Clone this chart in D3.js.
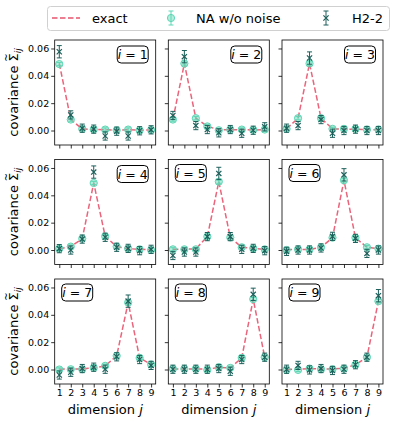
<!DOCTYPE html>
<html>
<head>
<meta charset="utf-8">
<script src="https://cdn.jsdelivr.net/npm/d3@7"></script>
<style>
  body { margin: 0; background: #fff; }
  svg { font-family: "DejaVu Sans", sans-serif; }
</style>
</head>
<body>
<div id="chart"></div>
<script>
// dimension index j
let dims = [1, 2, 3, 4, 5, 6, 7, 8, 9];
let yTicks = [0.00, 0.02, 0.04, 0.06];

// exact covariance row i (one array per panel)
let exact = [
  [0.049, 0.008, 0.0012, 0.0008, 0.0006, 0.0002, 0.0006, 0.0002, 0.0004],
  [0.008, 0.049, 0.009, 0.003, 0.0006, 0.0006, 0.0006, 0.0004, 0.0006],
  [0.0012, 0.009, 0.049, 0.009, 0.0012, 0.0010, 0.0010, 0.0006, 0.0006],
  [0.0008, 0.0025, 0.0083, 0.049, 0.010, 0.0025, 0.0010, 0.0005, 0.0002],
  [0.0005, 0.0006, 0.0008, 0.0098, 0.050, 0.0092, 0.002, 0.0012, 0.0004],
  [0.0002, 0.0004, 0.0004, 0.002, 0.009, 0.051, 0.009, 0.002, 0.001],
  [0.0002, 0.0004, 0.0004, 0.0012, 0.0027, 0.010, 0.049, 0.0085, 0.0037],
  [0.0004, 0.0004, 0.0004, 0.0002, 0.0015, 0.0012, 0.0085, 0.0515, 0.009],
  [0.0002, 0.0002, 0.0006, 0.0004, 0.0004, 0.0008, 0.0035, 0.009, 0.050]
];

// NA w/o noise
let naNoNoise = [
  [0.0486, 0.008, 0.0012, 0.0008, 0.0007, 0.0002, 0.0007, 0.0002, 0.0004],
  [0.008, 0.049, 0.009, 0.003, 0.0002, 0.0007, 0.0007, 0.0005, 0.0007],
  [0.0012, 0.009, 0.049, 0.009, 0.0012, 0.0012, 0.0012, 0.0007, 0.0007],
  [0.0010, 0.0025, 0.0083, 0.049, 0.010, 0.0025, 0.0010, 0.0005, 0.0000],
  [0.0005, 0.0005, 0.0005, 0.0098, 0.050, 0.0092, 0.002, 0.0012, 0.0005],
  [0.0000, 0.0005, 0.0005, 0.002, 0.009, 0.051, 0.009, 0.002, 0.001],
  [0.0000, 0.0002, 0.0002, 0.0012, 0.0027, 0.010, 0.049, 0.0085, 0.0037],
  [0.0005, 0.0005, 0.0005, -0.0003, 0.0017, 0.0012, 0.0085, 0.0515, 0.009],
  [-0.0003, -0.0003, 0.0007, 0.0002, 0.0002, 0.0007, 0.0035, 0.009, 0.050]
];
let naErr = 0.0012;

// H2-2 hardware
let h2 = [
  [0.0576, 0.0114, 0.0017, 0.0010, -0.0040, -0.0005, -0.0040, -0.0002, 0.0005],
  [0.011, 0.054, 0.0036, 0.0007, -0.0017, 0.0007, -0.0020, 0.0002, 0.0027],
  [0.0017, 0.0036, 0.053, 0.008, -0.0020, 0.0000, 0.0010, 0.0000, 0.0000],
  [0.0010, 0.0000, 0.0080, 0.057, 0.0093, 0.0020, 0.0012, -0.0005, 0.0005],
  [-0.0040, -0.0015, -0.0015, 0.0098, 0.056, 0.0098, 0.0005, 0.0012, -0.0005],
  [-0.0010, 0.0000, 0.0000, 0.0015, 0.010, 0.055, 0.0085, -0.0025, 0.0000],
  [-0.0040, -0.0020, 0.0007, 0.0017, 0.0002, 0.0093, 0.050, 0.0073, 0.0030],
  [0.0002, 0.0002, 0.0002, 0.0002, 0.0007, -0.0013, 0.0073, 0.055, 0.009],
  [0.0002, 0.0030, -0.0003, 0.0007, -0.0007, 0.0002, 0.0035, 0.009, 0.054]
];
let h2Err = [
  [0.0045, 0.003, 0.003, 0.003, 0.003, 0.003, 0.003, 0.003, 0.003],
  [0.003, 0.0045, 0.003, 0.003, 0.003, 0.003, 0.003, 0.003, 0.003],
  [0.003, 0.003, 0.0045, 0.003, 0.003, 0.003, 0.003, 0.003, 0.003],
  [0.003, 0.003, 0.003, 0.0045, 0.003, 0.003, 0.003, 0.003, 0.003],
  [0.003, 0.003, 0.003, 0.003, 0.0045, 0.003, 0.003, 0.003, 0.003],
  [0.003, 0.003, 0.003, 0.003, 0.003, 0.0045, 0.003, 0.003, 0.003],
  [0.003, 0.003, 0.003, 0.003, 0.003, 0.003, 0.0045, 0.003, 0.003],
  [0.003, 0.003, 0.003, 0.003, 0.003, 0.003, 0.003, 0.0045, 0.003],
  [0.003, 0.003, 0.003, 0.003, 0.003, 0.003, 0.003, 0.003, 0.0045]
];

let exactColor = "#e8536d";
let naColor = "#5ed6b4";
let h2Color = "#1c5f5a";

let W = 396, H = 423;
let colLeft = [54.7, 168.3, 282];
let rowTop = [40, 159.5, 279];
let pw = 101, ph = 105;

let svg = d3.select("#chart").append("svg")
    .attr("width", W)
    .attr("height", H);

let x = d3.scaleLinear().domain([0.6, 9.4]).range([0, pw]);
let y = d3.scaleLinear().domain([-0.0106, 0.0662]).range([ph, 0]);

for (let p = 0; p < 9; p++) {
    let row = Math.floor(p / 3), col = p % 3;
    let g = svg.append("g")
        .attr("transform", "translate(" + colLeft[col] + "," + rowTop[row] + ")");

    // axes
    let xa = g.append("g").attr("transform", "translate(0," + ph + ")")
        .call(d3.axisBottom(x).tickValues(dims).tickSize(3.5).tickPadding(2)
            .tickFormat(row == 2 ? d3.format("d") : ""));
    let ya = g.append("g")
        .call(d3.axisLeft(y).tickValues(yTicks).tickSize(3.5).tickPadding(2)
            .tickFormat(col == 0 ? d3.format(".2f") : ""));
    [xa, ya].forEach(a => {
        a.select(".domain").remove();
        a.selectAll("line").attr("stroke", "#000").attr("stroke-width", 0.8);
        a.selectAll("text").attr("fill", "#000").style("font-size", "9.5px")
            .style("font-family", "DejaVu Sans");
    });

    // exact dashed line
    g.append("path")
        .datum(exact[p])
        .attr("fill", "none")
        .attr("stroke", exactColor)
        .attr("stroke-width", 1.5)
        .attr("stroke-dasharray", "5.5,2.5")
        .attr("opacity", 0.9)
        .attr("d", d3.line().x((d, i) => x(dims[i])).y(d => y(d)));

    // NA w/o noise
    let na = g.append("g");
    naNoNoise[p].forEach(function(v, i) {
        let cx = x(dims[i]);
        na.append("line").attr("x1", cx).attr("x2", cx)
            .attr("y1", y(v - naErr)).attr("y2", y(v + naErr))
            .attr("stroke", naColor).attr("stroke-width", 1);
        [v - naErr, v + naErr].forEach(e => na.append("line")
            .attr("x1", cx - 2.5).attr("x2", cx + 2.5)
            .attr("y1", y(e)).attr("y2", y(e))
            .attr("stroke", naColor).attr("stroke-width", 1));
        na.append("circle").attr("cx", cx).attr("cy", y(v)).attr("r", 3.6)
            .attr("fill", naColor).attr("fill-opacity", 0.45)
            .attr("stroke", naColor).attr("stroke-width", 1);
    });

    // H2-2
    let hw = g.append("g");
    h2[p].forEach(function(v, i) {
        let cx = x(dims[i]), e = h2Err[p][i];
        hw.append("line").attr("x1", cx).attr("x2", cx)
            .attr("y1", y(v - e)).attr("y2", y(v + e))
            .attr("stroke", h2Color).attr("stroke-width", 1);
        [v - e, v + e].forEach(t => hw.append("line")
            .attr("x1", cx - 2.5).attr("x2", cx + 2.5)
            .attr("y1", y(t)).attr("y2", y(t))
            .attr("stroke", h2Color).attr("stroke-width", 1));
        let cy = y(v), s = 2.6;
        hw.append("path")
            .attr("d", "M" + (cx - s) + "," + (cy - s) + "L" + (cx + s) + "," + (cy + s) +
                       "M" + (cx - s) + "," + (cy + s) + "L" + (cx + s) + "," + (cy - s))
            .attr("stroke", h2Color).attr("stroke-width", 1.2);
    });

    // frame
    g.append("rect")
        .attr("width", pw).attr("height", ph)
        .attr("fill", "none").attr("stroke", "#000").attr("stroke-width", 0.8);

    // i = n label box
    let bw = 31, bh = 17;
    let bx = p < 4 ? pw - bw - 7.5 : 7;
    let by = p < 4 ? 6 : 5;
    g.append("rect")
        .attr("x", bx).attr("y", by).attr("width", bw).attr("height", bh)
        .attr("rx", 4).attr("fill", "#fff").attr("stroke", "#000").attr("stroke-width", 1);
    let t = g.append("text")
        .attr("x", bx + bw / 2).attr("y", by + bh / 2 + 4.5)
        .attr("text-anchor", "middle")
        .style("font-size", "12.5px");
    t.append("tspan").style("font-style", "italic").text("i");
    t.append("tspan").text(" = " + (p + 1));

    // y label
    if (col == 0) {
        let yl = svg.append("text")
            .attr("transform", "translate(18," + (rowTop[row] + ph / 2) + ") rotate(-90)")
            .attr("text-anchor", "middle")
            .style("font-size", "13px");
        yl.append("tspan").text("covariance ");
        yl.append("tspan").text("\u03A3");
        yl.append("tspan").attr("dx", -8.5).attr("dy", -8).style("font-size", "10px").text("~");
        yl.append("tspan").attr("dx", 0).attr("dy", 11).style("font-size", "9px").style("font-style", "italic").text("ij");
    }
    // x label
    if (row == 2) {
        let xl = svg.append("text")
            .attr("x", colLeft[col] + pw / 2).attr("y", 414)
            .attr("text-anchor", "middle")
            .style("font-size", "13px");
        xl.append("tspan").text("dimension ");
        xl.append("tspan").style("font-style", "italic").text("j");
    }
}

// legend
let lg = svg.append("g");
lg.append("rect")
    .attr("x", 47.5).attr("y", 6.5).attr("width", 342).attr("height", 24)
    .attr("rx", 3).attr("fill", "#fff").attr("stroke", "#d0d0d0").attr("stroke-width", 1);
lg.append("line").attr("x1", 52).attr("x2", 80).attr("y1", 18).attr("y2", 18)
    .attr("stroke", exactColor).attr("stroke-width", 1.5).attr("stroke-dasharray", "5.5,2.5");
lg.append("text").attr("x", 92).attr("y", 23).style("font-size", "13px").text("exact");
lg.append("line").attr("x1", 171).attr("x2", 171).attr("y1", 11).attr("y2", 25)
    .attr("stroke", naColor).attr("stroke-width", 1);
[11, 25].forEach(v => lg.append("line").attr("x1", 168.5).attr("x2", 173.5)
    .attr("y1", v).attr("y2", v).attr("stroke", naColor).attr("stroke-width", 1));
lg.append("circle").attr("cx", 171).attr("cy", 18).attr("r", 3.6)
    .attr("fill", naColor).attr("fill-opacity", 0.45).attr("stroke", naColor);
lg.append("text").attr("x", 196).attr("y", 23).style("font-size", "13px").text("NA w/o noise");
lg.append("line").attr("x1", 326).attr("x2", 326).attr("y1", 11).attr("y2", 25)
    .attr("stroke", h2Color).attr("stroke-width", 1);
[11, 25].forEach(v => lg.append("line").attr("x1", 323.5).attr("x2", 328.5)
    .attr("y1", v).attr("y2", v).attr("stroke", h2Color).attr("stroke-width", 1));
lg.append("path").attr("d", "M323.4,15.4L328.6,20.6M323.4,20.6L328.6,15.4")
    .attr("stroke", h2Color).attr("stroke-width", 1.2);
lg.append("text").attr("x", 352).attr("y", 23).style("font-size", "13px").text("H2-2");
</script>
</body>
</html>
